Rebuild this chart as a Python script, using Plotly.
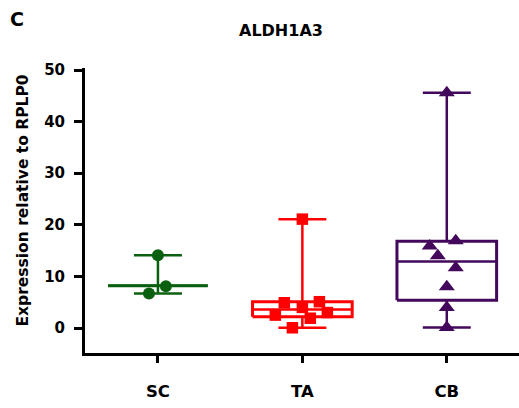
import plotly.graph_objects as go

# ---- data ----
groups = ["SC", "TA", "CB"]
sc_values = [14.1, 8.1, 6.7]
ta_values = [21.1, 4.9, 5.1, 4.0, 2.5, 3.0, 1.9, 0.05]
cb_values = [45.6, 15.9, 16.9, 14.0, 11.7, 8.0, 4.0, 0.1]
# horizontal scatter offsets of each point (category units)
sc_jitter = [0.0, 0.055, -0.062]
ta_jitter = [0.0, -0.125, 0.118, 0.0, -0.187, 0.173, 0.055, -0.069]
cb_jitter = [0.0, -0.118, 0.062, -0.062, 0.062, 0.0, 0.0, 0.0]
# box summaries
box_median = [8.2, 3.6, 12.9]
box_q1 = [8.2, 2.2, 5.4]
box_q3 = [8.2, 5.1, 16.8]
whisk_lo = [6.7, 0.05, 0.1]
whisk_hi = [14.1, 21.1, 45.6]
y_ticks = [0, 10, 20, 30, 40, 50]

colors = ["#0b600f", "#ff0000", "#43085b"]
symbols = ["circle", "square", "triangle-up"]
msizes = [12, 11.5, 14]
values = [sc_values, ta_values, cb_values]
jitters = [sc_jitter, ta_jitter, cb_jitter]

FONT = "DejaVu Sans"
BOX_HW = 0.345
CAP_HW = 0.166

fig = go.Figure()

for i, g in enumerate(groups):
    c = colors[i]
    # whisker stems
    fig.add_trace(go.Scatter(x=[i, i, None, i, i], y=[box_q3[i], whisk_hi[i], None, box_q1[i], whisk_lo[i]],
                             mode="lines", line=dict(color=c, width=2.5), hoverinfo="skip", showlegend=False))
    # caps
    fig.add_trace(go.Scatter(x=[i - CAP_HW, i + CAP_HW, None, i - CAP_HW, i + CAP_HW],
                             y=[whisk_hi[i], whisk_hi[i], None, whisk_lo[i], whisk_lo[i]],
                             mode="lines", line=dict(color=c, width=2.5), hoverinfo="skip", showlegend=False))
    # box
    fig.add_trace(go.Scatter(x=[i - BOX_HW, i + BOX_HW, i + BOX_HW, i - BOX_HW, i - BOX_HW],
                             y=[box_q1[i], box_q1[i], box_q3[i], box_q3[i], box_q1[i]],
                             mode="lines", line=dict(color=c, width=3), hoverinfo="skip", showlegend=False))
    # median
    fig.add_trace(go.Scatter(x=[i - BOX_HW, i + BOX_HW], y=[box_median[i], box_median[i]],
                             mode="lines", line=dict(color=c, width=2.5), hoverinfo="skip", showlegend=False))

for i, g in enumerate(groups):
    fig.add_trace(go.Scatter(x=[i + j for j in jitters[i]], y=values[i], mode="markers", name=g,
                             marker=dict(symbol=symbols[i], size=msizes[i], color=colors[i], line=dict(width=0)),
                             showlegend=False))

L, T, W, H = 85, 68, 434, 285


def px(xp):
    return (xp - L) / W


def py(yp):
    return (T + H - yp) / H


fig.update_layout(
    width=519, height=408,
    margin=dict(l=L, r=519 - L - W, t=T, b=408 - T - H),
    paper_bgcolor="white", plot_bgcolor="white",
    font=dict(family=FONT, color="black"),
    annotations=[
        dict(text="<b>ALDH1A3</b>", x=px(281), y=py(30.5), xref="paper", yref="paper",
             xanchor="center", yanchor="middle", showarrow=False, font=dict(size=16, family=FONT)),
        dict(text="<b>C</b>", x=px(17), y=py(19), xref="paper", yref="paper",
             xanchor="center", yanchor="middle", showarrow=False, font=dict(size=19, family=FONT)),
        dict(text="<b>Expression relative to RPLP0</b>", x=px(22), y=py(200.5), xref="paper", yref="paper",
             xanchor="center", yanchor="middle", textangle=-90, showarrow=False,
             font=dict(size=15.5, family=FONT)),
    ],
)

fig.update_xaxes(
    range=[-0.505, 2.5], tickvals=[0, 1, 2], ticktext=[f"<b>{g}</b>" for g in groups],
    showline=True, linewidth=3, linecolor="black", ticks="outside", ticklen=7, tickwidth=2.5,
    tickcolor="black", showgrid=False, zeroline=False, tickfont=dict(size=16.5, family=FONT),
    ticklabelstandoff=14,
)
fig.update_yaxes(
    range=[-4.84, 50.39], tickvals=y_ticks, ticktext=[f"<b>{v}</b>" for v in y_ticks],
    showline=True, linewidth=3, linecolor="black", ticks="outside", ticklen=8, tickwidth=2.5,
    tickcolor="black", showgrid=False, zeroline=False, tickfont=dict(size=15, family=FONT),
    ticklabelstandoff=6,
)

fig.write_html("out.html")
